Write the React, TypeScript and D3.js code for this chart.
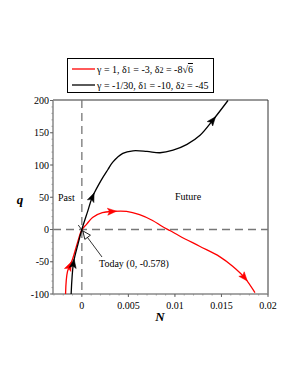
import React, { useEffect, useRef } from 'react';
import * as d3 from 'd3';

// black curve (gamma = -1/30)
const blackN = [-0.00115, -0.0009, -0.0004, 0, 0.0006, 0.00115, 0.0021, 0.0028, 0.0033, 0.0044, 0.0055, 0.007, 0.0084, 0.0098, 0.0113, 0.0127, 0.0141, 0.0157];
const blackQ = [-100, -52, -22, 0, 27, 51, 77, 93, 104, 118, 122, 121, 119, 123, 132, 146, 170, 200];
const blackArrows = [-0.0009, 0.00115, 0.0141];

// red curve (gamma = 1)
const redN = [-0.00175, -0.00154, -0.001, -0.00046, 0, 0.0005, 0.00115, 0.0022, 0.0033, 0.0048, 0.0062, 0.0076, 0.0086, 0.0095, 0.0105, 0.01265, 0.0148, 0.0162, 0.0175, 0.0186];
const redQ = [-100, -65, -46, -20, -0.578, 8, 18.6, 26, 28, 28, 23, 14, 5, -2, -10, -26, -42, -57, -75, -98];
const redArrows = [-0.0013, 0.0033, 0.0175];

const xTicks = [0, 0.005, 0.01, 0.015, 0.02];
const xTickLabels = ['0', '0.005', '0.01', '0.015', '0.02'];
const yTicks = [-100, -50, 0, 50, 100, 150, 200];
const yTickLabels = ['-100', '-50', '0', '50', '100', '150', '200'];
const today = [0, -0.578];

const FONT = '"Liberation Serif", "Times New Roman", serif';

export default function App() {
  const ref = useRef<SVGSVGElement>(null);

  useEffect(() => {
    const svg = d3.select(ref.current);
    svg.selectAll('*').remove();

    const left = 53, right = 268, top = 100, bottom = 294;
    const x = d3.scaleLinear().domain([-0.0031, 0.02]).range([left, right]);
    const y = d3.scaleLinear().domain([-100, 200]).range([bottom, top + 0.5]);

    svg.append('clipPath').attr('id', 'plotclip')
      .append('rect').attr('x', left).attr('y', top).attr('width', right - left).attr('height', bottom - top);

    // frame
    svg.append('line').attr('x1', left).attr('x2', right).attr('y1', top).attr('y2', top)
      .attr('stroke', '#333').attr('stroke-width', 1);
    svg.append('line').attr('x1', right).attr('x2', right).attr('y1', top).attr('y2', bottom)
      .attr('stroke', '#333').attr('stroke-width', 1);

    // dashed zero lines
    svg.append('line').attr('x1', x(0)).attr('x2', x(0)).attr('y1', top).attr('y2', bottom)
      .attr('stroke', '#777').attr('stroke-width', 1.3).attr('stroke-dasharray', '8,5');
    svg.append('line').attr('x1', left).attr('x2', right).attr('y1', y(0)).attr('y2', y(0))
      .attr('stroke', '#777').attr('stroke-width', 1.3).attr('stroke-dasharray', '8,5');

    // axes
    const yAxis = svg.append('g');
    yAxis.append('line').attr('x1', left).attr('x2', left).attr('y1', top).attr('y2', bottom)
      .attr('stroke', '#888').attr('stroke-width', 1.5);
    const yMinor = d3.range(-100, 201, 10);
    yAxis.selectAll('.ymin').data(yMinor).join('line')
      .attr('x1', left - 1.5).attr('x2', left)
      .attr('y1', d => y(d)).attr('y2', d => y(d))
      .attr('stroke', '#888').attr('stroke-width', 0.8);
    yAxis.selectAll('.ymaj').data(yTicks).join('line')
      .attr('x1', left - 3).attr('x2', left)
      .attr('y1', d => y(d)).attr('y2', d => y(d))
      .attr('stroke', '#666').attr('stroke-width', 1);
    yAxis.selectAll('text').data(yTicks).join('text')
      .attr('x', left - 4).attr('y', d => y(d) + 3.5)
      .attr('text-anchor', 'end').attr('font-size', 10).attr('font-family', FONT)
      .text((d, i) => yTickLabels[i]);

    const xAxis = svg.append('g');
    xAxis.append('line').attr('x1', left).attr('x2', right).attr('y1', bottom).attr('y2', bottom)
      .attr('stroke', '#888').attr('stroke-width', 1.5);
    const xMinor = d3.range(-3, 21).map(d => d / 1000);
    xAxis.selectAll('.xmin').data(xMinor).join('line')
      .attr('x1', d => x(d)).attr('x2', d => x(d))
      .attr('y1', bottom).attr('y2', bottom + 1.5)
      .attr('stroke', '#888').attr('stroke-width', 0.8);
    xAxis.selectAll('.xmaj').data(xTicks).join('line')
      .attr('x1', d => x(d)).attr('x2', d => x(d))
      .attr('y1', bottom).attr('y2', bottom + 3)
      .attr('stroke', '#666').attr('stroke-width', 1);
    xAxis.selectAll('text').data(xTicks).join('text')
      .attr('x', d => x(d)).attr('y', 309)
      .attr('text-anchor', 'middle').attr('font-size', 10).attr('font-family', FONT)
      .text((d, i) => xTickLabels[i]);

    // axis titles
    svg.append('text').attr('x', 20).attr('y', 204).attr('text-anchor', 'middle')
      .attr('font-size', 13).attr('font-weight', 'bold').attr('font-style', 'italic')
      .attr('font-family', FONT).text('q');
    svg.append('text').attr('x', 160).attr('y', 321).attr('text-anchor', 'middle')
      .attr('font-size', 13).attr('font-weight', 'bold').attr('font-style', 'italic')
      .attr('font-family', FONT).text('N');

    svg.append('text').attr('x', 58).attr('y', 201).attr('font-size', 10).attr('font-family', FONT).text('Past');
    svg.append('text').attr('x', 175).attr('y', 200).attr('font-size', 10).attr('font-family', FONT).text('Future');

    // curves
    const plot = svg.append('g').attr('clip-path', 'url(#plotclip)');

    const drawCurve = (ns: number[], qs: number[], arrows: number[], color: string) => {
      const pts = ns.map((n, i) => [x(n), y(qs[i])] as [number, number]);
      const path = plot.append('path')
        .attr('d', d3.line().curve(d3.curveCatmullRom.alpha(0.5))(pts))
        .attr('fill', 'none').attr('stroke', color).attr('stroke-width', 1.3);
      const node = path.node() as SVGPathElement;
      const total = node.getTotalLength();
      arrows.forEach(a => {
        const tx = x(a);
        let lo = 0, hi = total;
        for (let k = 0; k < 40; k++) {
          const mid = (lo + hi) / 2;
          if (node.getPointAtLength(mid).x < tx) lo = mid; else hi = mid;
        }
        const p0 = node.getPointAtLength(Math.max(0, lo - 2));
        const p1 = node.getPointAtLength(Math.min(total, lo + 2));
        const ang = Math.atan2(p1.y - p0.y, p1.x - p0.x) * 180 / Math.PI;
        const p = node.getPointAtLength(lo);
        plot.append('path')
          .attr('d', 'M4,0 L-5,-3.5 L-3,0 L-5,3.5 Z')
          .attr('transform', `translate(${p.x},${p.y}) rotate(${ang})`)
          .attr('fill', color).attr('stroke', color).attr('stroke-width', 0.5);
      });
    };
    drawCurve(redN, redQ, redArrows, '#ff0000');
    drawCurve(blackN, blackQ, blackArrows, '#000000');

    // Today annotation
    const tx = x(today[0]), ty = y(today[1]);
    const sx = 102, sy = 257;
    const ang = Math.atan2(ty - sy, tx - sx) * 180 / Math.PI;
    svg.append('line').attr('x1', sx).attr('y1', sy).attr('x2', tx + 6 * Math.cos(ang * Math.PI / 180))
      .attr('y2', ty + 6 * Math.sin(ang * Math.PI / 180))
      .attr('stroke', '#000').attr('stroke-width', 0.8);
    svg.append('path').attr('d', 'M0,0 L-8,-3.5 L-8,3.5 Z')
      .attr('transform', `translate(${tx + 1},${ty + 1}) rotate(${ang})`)
      .attr('fill', '#fff').attr('stroke', '#000').attr('stroke-width', 0.8);
    svg.append('text').attr('x', 99).attr('y', 267).attr('font-size', 10).attr('font-family', FONT)
      .text('Today (0, -0.578)');

    // legend
    const lg = svg.append('g');
    lg.append('rect').attr('x', 67.5).attr('y', 58.5).attr('width', 146).attr('height', 34)
      .attr('fill', '#fff').attr('stroke', '#000').attr('stroke-width', 1);
    lg.append('line').attr('x1', 72).attr('x2', 95).attr('y1', 69).attr('y2', 69)
      .attr('stroke', '#ff0000').attr('stroke-width', 1.3);
    lg.append('line').attr('x1', 72).attr('x2', 95).attr('y1', 85).attr('y2', 85)
      .attr('stroke', '#000').attr('stroke-width', 1.3);

    const t1 = lg.append('text').attr('x', 97).attr('y', 73).attr('font-size', 10).attr('font-family', FONT);
    t1.append('tspan').text('γ = 1, δ');
    t1.append('tspan').attr('font-size', 8).text('1');
    t1.append('tspan').text(' = -3, δ');
    t1.append('tspan').attr('font-size', 8).text('2');
    t1.append('tspan').text(' = -8√');
    t1.append('tspan').style('text-decoration', 'overline').text('6');

    const t2 = lg.append('text').attr('x', 97).attr('y', 89).attr('font-size', 10).attr('font-family', FONT);
    t2.append('tspan').text('γ = -1/30, δ');
    t2.append('tspan').attr('font-size', 8).text('1');
    t2.append('tspan').text(' = -10, δ');
    t2.append('tspan').attr('font-size', 8).text('2');
    t2.append('tspan').text(' = -45');
  }, []);

  return (
    <svg ref={ref} width={298} height={385}
      style={{ position: 'absolute', left: 0, top: 0, background: '#fff' }} />
  );
}
